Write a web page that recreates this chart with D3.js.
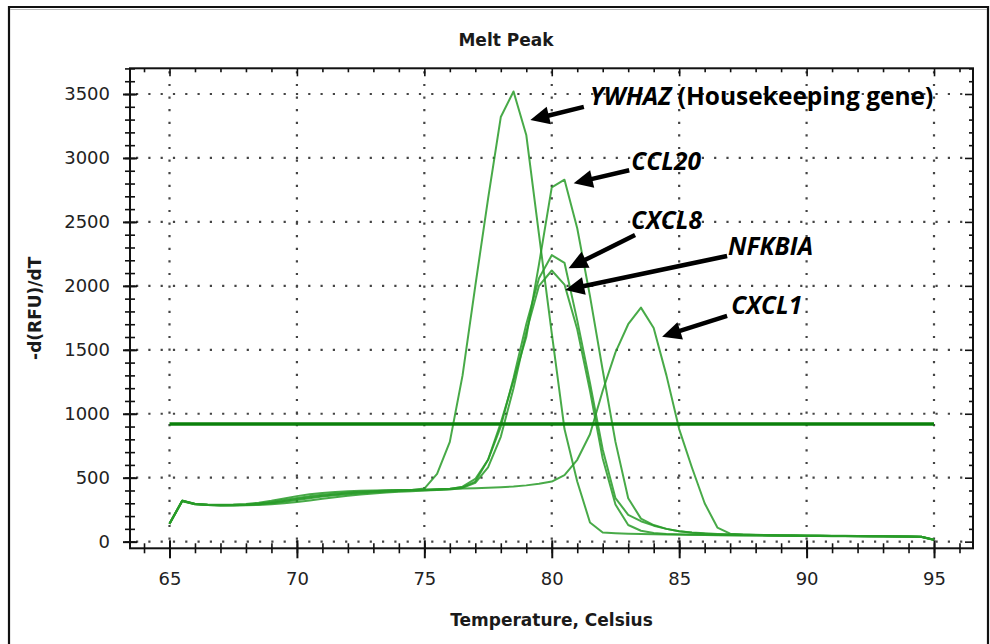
<!DOCTYPE html>
<html>
<head>
<meta charset="utf-8">
<script src="https://cdn.jsdelivr.net/npm/d3@7"></script>
<style>
  html, body { margin: 0; padding: 0; background: #fff; }
  svg { display: block; }
</style>
</head>
<body>
<svg id="chart" width="990" height="644"></svg>
<script>
// ---------------- DATA ----------------
const temps = [
  65, 65.5, 66, 66.5, 67, 67.5, 68, 68.5, 69, 69.5,
  70, 70.5, 71, 71.5, 72, 72.5, 73, 73.5, 74, 74.5,
  75, 75.5, 76, 76.5, 77, 77.5, 78, 78.5, 79, 79.5,
  80, 80.5, 81, 81.5, 82, 82.5, 83, 83.5, 84, 84.5,
  85, 85.5, 86, 86.5, 87, 87.5, 88, 88.5, 89, 89.5,
  90, 90.5, 91, 91.5, 92, 92.5, 93, 93.5, 94, 94.5,
  95
];

const ywhaz = [
  140, 322, 295, 290, 288, 290, 295, 305, 320, 338,
  356, 370, 381, 389, 394, 398, 400, 402, 403, 404,
  415, 530, 780, 1300, 2000, 2680, 3320, 3520, 3180, 2400,
  1630, 880, 470, 150, 72, 66, 62, 60, 58, 56,
  55, 54, 53, 52, 51, 50, 50, 49, 48, 47,
  46, 45, 44, 44, 43, 42, 42, 41, 40, 38,
  15
];

const ccl20 = [
  138, 318, 293, 287, 285, 286, 290, 298, 310, 325,
  342, 356, 367, 376, 384, 390, 395, 399, 402, 404,
  406, 409, 414, 425, 470, 640, 930, 1260, 1600, 2170,
  2770, 2830, 2450, 1920, 1340, 780, 340, 180, 130, 100,
  82, 72, 65, 60, 57, 55, 53, 52, 51, 50,
  49, 48, 47, 46, 45, 44, 43, 42, 41, 39,
  16
];

const cxcl8 = [
  142, 320, 297, 288, 284, 284, 286, 292, 300, 312,
  326, 340, 352, 362, 371, 379, 386, 391, 396, 399,
  402, 406, 412, 430, 490, 640, 900, 1280, 1700, 2060,
  2240, 2180, 1730, 1240, 720, 340, 210, 160, 125, 100,
  82, 70, 62, 57, 54, 52, 51, 50, 49, 48,
  47, 46, 45, 44, 43, 42, 42, 41, 40, 38,
  14
];

const nfkbia = [
  140, 316, 292, 286, 283, 283, 284, 287, 292, 300,
  310, 322, 335, 347, 358, 368, 377, 384, 390, 395,
  399, 403, 408, 420, 460, 580, 820, 1200, 1640, 2000,
  2120, 2010, 1660, 1180, 650, 290, 130, 85, 68, 60,
  56, 54, 52, 51, 50, 49, 48, 47, 46, 45,
  45, 44, 43, 43, 42, 41, 41, 40, 39, 37,
  13
];

const cxcl1 = [
  140, 320, 294, 287, 285, 285, 288, 295, 305, 318,
  333, 347, 359, 369, 378, 385, 391, 396, 400, 403,
  406, 409, 412, 415, 418, 421, 425, 431, 440, 452,
  470, 520, 640, 840, 1180, 1480, 1700, 1830, 1670, 1300,
  880, 580, 300, 110, 62, 55, 52, 50, 49, 48,
  47, 46, 45, 44, 44, 43, 42, 41, 40, 38,
  15
];

const seriesNames = ["YWHAZ", "CCL20", "CXCL8", "NFKBIA", "CXCL1"];
const seriesValues = [ywhaz, ccl20, cxcl8, nfkbia, cxcl1];

const thresholdValue = 920;
const thresholdRange = [65, 95];

const xTickLabels = [65, 70, 75, 80, 85, 90, 95];
const yTickLabels = [0, 500, 1000, 1500, 2000, 2500, 3000, 3500];

const titleText = "Melt Peak";
const xTitle = "Temperature, Celsius";
const yTitle = "-d(RFU)/dT";

// annotation text (gene name, suffix) — anchors in data units
const annoName   = ["YWHAZ", "CCL20", "CXCL8", "NFKBIA", "CXCL1"];
const annoSuffix = [" (Housekeeping gene)", "", "", "", ""];
const annoText   = [[81.5, 3411], [83.12, 2906], [83.11, 2443], [86.92, 2241], [87.04, 1780]];
const annoTail   = [[81.26, 3399], [83.04, 2904], [83.27, 2398], [86.88, 2234], [86.88, 1766]];
const annoTip    = [[79.16, 3297], [80.86, 2802], [80.66, 2138], [80.53, 1968], [84.33, 1603]];

// ---------------- LAYOUT ----------------
const svg = d3.select("#chart");
const L = 130, R = 973, T = 68.3, B = 548.3;

const x = d3.scaleLinear().domain([63.45, 96.53]).range([L, R]);
const y = d3.scaleLinear().domain([-52, 3701]).range([B, T]);

// outer border
svg.append("rect").attr("x", 0).attr("y", 0).attr("width", 990).attr("height", 644).attr("fill", "#fff");
svg.append("path")
  .attr("d", "M9,650 L9,7 L988,7 L988,650")
  .attr("fill", "none").attr("stroke", "#111").attr("stroke-width", 2.2);
svg.append("line").attr("x1", 10).attr("x2", 987).attr("y1", 9.5).attr("y2", 9.5)
  .attr("stroke", "#bbb").attr("stroke-width", 1);

// grid
const gridColor = "#444";
const grid = svg.append("g");
grid.selectAll("line.v").data(xTickLabels).join("line")
  .attr("x1", d => x(d)).attr("x2", d => x(d))
  .attr("y1", T).attr("y2", B)
  .attr("stroke", gridColor).attr("stroke-width", 2.2)
  .attr("stroke-dasharray", "2.2,10.4")
  .attr("stroke-dashoffset", -3);
grid.selectAll("line.h").data(yTickLabels).join("line")
  .attr("x1", L).attr("x2", R)
  .attr("y1", d => y(d)).attr("y2", d => y(d))
  .attr("stroke", gridColor).attr("stroke-width", 2.2)
  .attr("stroke-dasharray", "2.2,10.1")
  .attr("stroke-dashoffset", -6);

// curves
const line = d3.line()
  .x((d, i) => x(temps[i]))
  .y(d => y(d));
svg.append("g").selectAll("path").data(seriesValues).join("path")
  .attr("d", d => line(d))
  .attr("fill", "none")
  .attr("stroke", "rgb(40,155,40)")
  .attr("stroke-opacity", 0.85)
  .attr("stroke-width", 2)
  .attr("stroke-linejoin", "round");

// threshold line
svg.append("line")
  .attr("x1", x(thresholdRange[0])).attr("x2", x(thresholdRange[1]))
  .attr("y1", y(thresholdValue)).attr("y2", y(thresholdValue))
  .attr("stroke", "#0b800b").attr("stroke-width", 3.5);

// frame
svg.append("rect").attr("x", L).attr("y", T).attr("width", R - L).attr("height", B - T)
  .attr("fill", "none").attr("stroke", "#111").attr("stroke-width", 2);

const fontTicks = "'DejaVu Sans', Verdana, sans-serif";
const fontBold = "'DejaVu Sans', Verdana, sans-serif";

// left axis: minor ticks
const yMinor = d3.range(0, 3701, 100);
const gLeftMinor = svg.append("g").attr("transform", `translate(${L},0)`)
  .call(d3.axisLeft(y).tickValues(yMinor).tickFormat("").tickSize(0));
gLeftMinor.select(".domain").remove();
gLeftMinor.selectAll(".tick line").attr("x1", -5).attr("x2", 5).attr("stroke", "#111").attr("stroke-width", 1.6);

// left axis: majors with labels
const gLeft = svg.append("g").attr("transform", `translate(${L},0)`)
  .call(d3.axisLeft(y).tickValues(yTickLabels).tickFormat(d3.format("d")).tickSize(0).tickPadding(20));
gLeft.select(".domain").remove();
gLeft.selectAll(".tick line").attr("x1", -7).attr("x2", 7).attr("stroke", "#111").attr("stroke-width", 2);
gLeft.selectAll(".tick text").attr("font-family", fontTicks).attr("font-size", 18).attr("fill", "#222");

// bottom axis: minor
const xMinor = d3.range(64, 97, 1);
const gBotMinor = svg.append("g").attr("transform", `translate(0,${B})`)
  .call(d3.axisBottom(x).tickValues(xMinor).tickFormat("").tickSize(0));
gBotMinor.select(".domain").remove();
gBotMinor.selectAll(".tick line").attr("y1", -5).attr("y2", 5).attr("stroke", "#111").attr("stroke-width", 1.6);

// bottom axis: major
const gBot = svg.append("g").attr("transform", `translate(0,${B})`)
  .call(d3.axisBottom(x).tickValues(xTickLabels).tickFormat(d3.format("d")).tickSize(0).tickPadding(24));
gBot.select(".domain").remove();
gBot.selectAll(".tick line").attr("y1", -8).attr("y2", 10).attr("stroke", "#111").attr("stroke-width", 2);
gBot.selectAll(".tick text").attr("font-family", fontTicks).attr("font-size", 18).attr("fill", "#222");

// top frame ticks (inward)
const gTop = svg.append("g").attr("transform", `translate(0,${T})`)
  .call(d3.axisTop(x).tickValues(xMinor).tickFormat("").tickSize(0));
gTop.select(".domain").remove();
gTop.selectAll(".tick line").attr("y1", 0).attr("y2", d => (d % 5 === 0 ? 8 : 4))
  .attr("stroke", "#111").attr("stroke-width", 1.6);

// right frame ticks (inward)
const gRight = svg.append("g").attr("transform", `translate(${R},0)`)
  .call(d3.axisRight(y).tickValues(yMinor).tickFormat("").tickSize(0));
gRight.select(".domain").remove();
gRight.selectAll(".tick line").attr("x1", 0).attr("x2", d => (d % 500 === 0 ? -8 : -4))
  .attr("stroke", "#111").attr("stroke-width", 1.6);

// titles
svg.append("text").attr("x", 506).attr("y", 46).attr("text-anchor", "middle")
  .attr("font-family", fontBold).attr("font-weight", "bold").attr("font-size", 17)
  .attr("fill", "#1a1a1a").text(titleText);
svg.append("text").attr("x", (L + R) / 2).attr("y", 626).attr("text-anchor", "middle")
  .attr("font-family", fontBold).attr("font-weight", "bold").attr("font-size", 17)
  .attr("fill", "#1a1a1a").text(xTitle);
svg.append("text").attr("transform", `translate(41,${(T + B) / 2}) rotate(-90)`)
  .attr("text-anchor", "middle")
  .attr("font-family", fontBold).attr("font-weight", "bold").attr("font-size", 17)
  .attr("fill", "#1a1a1a").text(yTitle);

// annotations
const annoFont = "'Open Sans', Lato, sans-serif";
const ga = svg.append("g");
annoName.forEach((name, i) => {
  const t = ga.append("text")
    .attr("x", x(annoText[i][0])).attr("y", y(annoText[i][1]))
    .attr("font-family", annoFont).attr("font-size", 24.5).attr("font-weight", "bold")
    .attr("fill", "#000");
  t.append("tspan").attr("font-style", "italic").text(name);
  if (annoSuffix[i]) t.append("tspan").text(annoSuffix[i]);

  const x0 = x(annoTail[i][0]), y0 = y(annoTail[i][1]);
  const x1 = x(annoTip[i][0]), y1 = y(annoTip[i][1]);
  const dx = x1 - x0, dy = y1 - y0, len = Math.hypot(dx, dy);
  const ux = dx / len, uy = dy / len;
  const headL = 19, headW = 9;
  const bx = x1 - ux * headL, by = y1 - uy * headL;
  ga.append("line").attr("x1", x0).attr("y1", y0).attr("x2", bx + ux * 2).attr("y2", by + uy * 2)
    .attr("stroke", "#000").attr("stroke-width", 4.5);
  ga.append("polygon")
    .attr("points", [
      [x1, y1],
      [bx - uy * headW, by + ux * headW],
      [bx + uy * headW, by - ux * headW]
    ].map(p => p.join(",")).join(" "))
    .attr("fill", "#000");
});
</script>
</body>
</html>
